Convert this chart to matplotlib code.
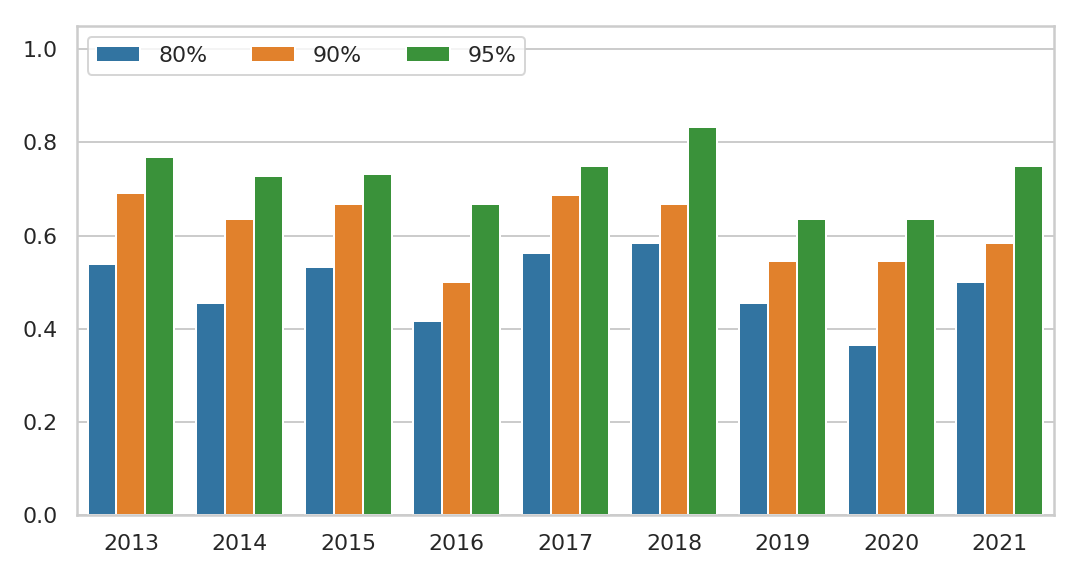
import matplotlib
matplotlib.use("Agg")
import matplotlib.pyplot as plt
import pandas as pd
import seaborn as sns

years = ["2013", "2014", "2015", "2016", "2017", "2018", "2019", "2020", "2021"]
levels = ["80%", "90%", "95%"]
vals_80 = [0.538, 0.455, 0.533, 0.417, 0.562, 0.583, 0.455, 0.364, 0.500]
vals_90 = [0.692, 0.636, 0.667, 0.500, 0.688, 0.667, 0.545, 0.545, 0.583]
vals_95 = [0.769, 0.727, 0.733, 0.667, 0.750, 0.833, 0.636, 0.636, 0.750]

rows = []
for lvl, vals in zip(levels, [vals_80, vals_90, vals_95]):
    for y, v in zip(years, vals):
        rows.append({"year": y, "level": lvl, "value": v})
df = pd.DataFrame(rows)

sns.set_theme(style="whitegrid")

fig, ax = plt.subplots(figsize=(7.5, 4), dpi=144)
sns.barplot(data=df, x="year", y="value", hue="level", palette="tab10", ax=ax)
ax.set_ylim(0, 1.05)
ax.set_xlabel("")
ax.set_ylabel("")
ax.legend(loc="upper left", ncol=3, title=None)
fig.subplots_adjust(left=0.071, right=0.976, top=0.955, bottom=0.106)
fig.savefig("out.png", dpi=144)
